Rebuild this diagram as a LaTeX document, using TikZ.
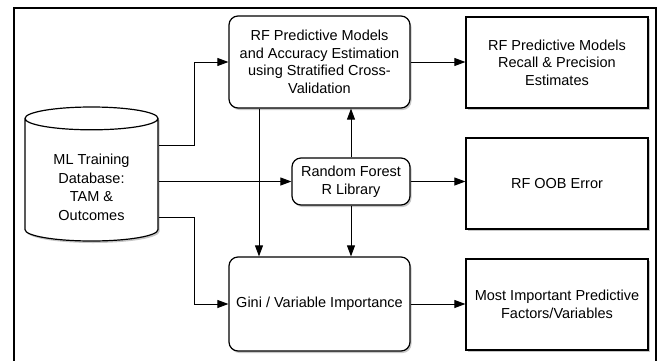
\documentclass[tikz,border=0pt]{standalone}
\usepackage{fontspec}
\setmainfont{Liberation Sans}
\usetikzlibrary{shapes.geometric,arrows.meta,shadows}
\tikzset{
  softshadow/.style={drop shadow={shadow xshift=1.5pt,shadow yshift=-2pt,opacity=0.22,fill=black}},
  procbox/.style={draw,fill=white,line width=1.2pt,rounded corners=9pt,align=center,inner sep=0pt,
    minimum width=181pt,softshadow},
  outbox/.style={draw,fill=white,line width=1.2pt,align=center,inner sep=0pt,
    minimum width=182pt,minimum height=91pt,softshadow},
  dbshape/.style={cylinder,shape border rotate=90,aspect=0.3,draw,fill=white,line width=1.2pt,
    align=center,inner sep=0pt,minimum width=133pt,minimum height=134pt,softshadow},
  flow/.style={-{Triangle[length=11pt,width=8pt]},line width=0.9pt},
  every picture/.style={font=\fontsize{14.5}{17.5}\selectfont}
}
\renewcommand{\arraystretch}{1.06}
\begin{document}
\begin{tikzpicture}[x=1pt,y=-1pt]
  \useasboundingbox (0,0) rectangle (659,360);
  \draw[line width=2pt] (14,365)--(14,8)--(656,8)--(656,365);

  \node[dbshape] (db) at (91.5,180)
    {\raisebox{-9pt}[\height][\depth]{\begin{tabular}{@{}c@{}}ML Training\\Database:\\TAM \&\\Outcomes\end{tabular}}};
  \node[procbox,minimum height=92pt] (rfcv) at (319.5,62)
    {RF Predictive Models\\and Accuracy Estimation\\using Stratified Cross-\\Validation};
  \node[procbox,minimum width=118pt,minimum height=47pt] (rflib) at (351,181.5) {Random Forest\\R Library};
  \node[procbox,minimum height=94pt] (gini) at (319.5,304) {Gini / Variable Importance};
  \node[outbox] (recall) at (557,62.5) {RF Predictive Models\\Recall \& Precision\\Estimates};
  \node[outbox] (oob) at (557,183.5) {RF OOB Error};
  \node[outbox] (topvars) at (557,304.5) {Most Important Predictive\\Factors/Variables};

  % from the database
  \draw[flow] ([yshift=35pt]db.east) -- ++(36,0) |- (rfcv.west);
  \draw[flow] (db.east |- rflib.west) -- (rflib.west);
  \draw[flow] ([yshift=-37pt]db.east) -- ++(36,0) |- (gini.west);
  % between the models
  \draw[flow] ([xshift=-60.5pt]rfcv.south) -- ([xshift=-60.5pt]rfcv.south |- gini.north);
  \draw[flow] (rflib.north) -- (rflib.north |- rfcv.south);
  \draw[flow] (rflib.south) -- (rflib.south |- gini.north);
  % results
  \draw[flow] (rfcv.east) -- (rfcv.east -| recall.west);
  \draw[flow] (rflib.east) -- (rflib.east -| oob.west);
  \draw[flow] (gini.east) -- (gini.east -| topvars.west);
\end{tikzpicture}
\end{document}
